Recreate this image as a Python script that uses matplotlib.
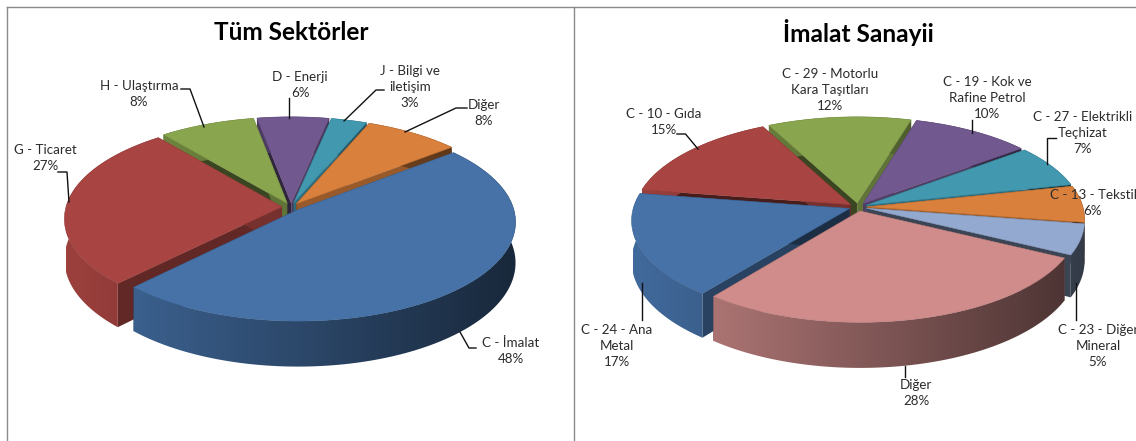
import numpy as np
import matplotlib
matplotlib.use('Agg')
import matplotlib.pyplot as plt
from matplotlib.patches import Polygon

plt.rcParams['font.family'] = ['Lato', 'DejaVu Sans']

# Left chart data
left_title = 'Tüm Sektörler'
left_names = ['C - İmalat', 'G - Ticaret', 'H - Ulaştırma', 'D - Enerji',
              'J - Bilgi ve\niletişim', 'Diğer']
left_values = [48, 27, 8, 6, 3, 8]

# Right chart data
right_title = 'İmalat Sanayii'
right_names = ['Diğer', 'C - 24 - Ana\nMetal', 'C - 10 - Gıda',
               'C - 29 - Motorlu\nKara Taşıtları', 'C - 19 - Kok ve\nRafine Petrol',
               'C - 27 - Elektrikli\nTeçhizat', 'C - 13 - Tekstil',
               'C - 23 - Diğer\nMineral']
right_values = [28, 17, 15, 12, 10, 7, 6, 5]

# Colours
left_colors = ['#4672A8', '#A84542', '#89A54E', '#71588F', '#4198AF', '#D9803C']
right_colors = ['#CF8C8B', '#4672A8', '#A84542', '#89A54E', '#71588F', '#4198AF',
                '#D9803C', '#93A9CF']

# Label centres and leader lines, pixel coordinates
left_label_pos = [(511, 351), (45, 158), (139, 94), (300, 85), (410, 87), (484, 113)]
left_leaders = [
    [(476, 348), (469, 348), (460, 332)],
    [(58, 172), (67, 172), (69, 202)],
    [(181, 89), (190, 89), (204, 127)],
    [(289, 98), (289, 118)],
    [(384, 90), (376, 90), (344, 121)],
    [(467, 108), (456, 108), (405, 132)],
]
right_label_pos = [(916, 393), (617, 346), (664, 122), (830, 90), (987, 98),
                   (1083, 133), (1093, 203), (1098, 346)]
right_leaders = [
    [(905, 366), (905, 377)],
    [(641.5, 283), (641.5, 320)],
    [(677, 134), (685.5, 134), (698, 149)],
    [(971.5, 120), (971.5, 133)],
    [(1055.5, 138), (1047, 138), (1047, 164)],
    [(1075.5, 283), (1075.5, 320)],
]

RADIUS = 216
TILT = 0.45
PERSP = 0.118
DEPTH = 40
EXPLODE = 9


def project(x3, y3, z3, cx, cy):
    s = 1.0 / (1.0 + PERSP * y3 / RADIUS)
    return cx + x3 * s, cy - y3 * TILT * s + z3 * s


def shade(color, f):
    rgb = np.array(matplotlib.colors.to_rgb(color))
    return tuple(np.clip(rgb * f, 0, 1))


def draw_pie(ax, values, colors, start, cx, cy, x_left, x_right):
    total = sum(values)
    spans = [v / total * 360 for v in values]
    edges = start - np.concatenate([[0], np.cumsum(spans)])
    mids = (edges[:-1] + edges[1:]) / 2

    # paint back slices first
    order = np.argsort(-np.sin(np.radians(mids)))
    z = 2.0
    for i in order:
        ang = np.radians(np.linspace(edges[i], edges[i + 1], max(int(spans[i] * 2), 4)))
        mid = np.radians(mids[i])
        ox = EXPLODE * np.cos(mid)
        oy = EXPLODE * np.sin(mid)
        rim_x = ox + RADIUS * np.cos(ang)
        rim_y = oy + RADIUS * np.sin(ang)

        tx, ty = project(rim_x, rim_y, 0, cx, cy)
        bx, by = project(rim_x, rim_y, DEPTH, cx, cy)
        ax_t, ay_t = project(ox, oy, 0, cx, cy)
        ax_b, ay_b = project(ox, oy, DEPTH, cx, cy)

        # cut faces, the left hand one of a back slice is in shadow
        f_first = 0.42 if np.sin(mid) > 0.3 else 0.58
        f_last = 0.7 if np.sin(mid) > 0 else 0.4
        for k, f in ((0, f_first), (-1, f_last)):
            cut = [(ax_t, ay_t), (tx[k], ty[k]), (bx[k], by[k]), (ax_b, ay_b)]
            ax.add_patch(Polygon(cut, closed=True, fc=shade(colors[i], f), ec='none', zorder=z))

        # outer wall, darker towards the right
        z += 0.01
        wall = Polygon(list(zip(tx, ty)) + list(zip(bx[::-1], by[::-1])), closed=True,
                       fc='none', ec='none', transform=ax.transData)
        ramp = np.linspace(0.93, 0.35, 256)
        grad = np.array([[shade(colors[i], f) for f in ramp]])
        im = ax.imshow(grad, extent=(x_left, x_right, 441, 0), aspect='auto',
                       interpolation='bilinear', zorder=z)
        im.set_clip_path(wall)

        # top face
        z += 0.01
        top = [(ax_t, ay_t)] + list(zip(tx, ty))
        ax.add_patch(Polygon(top, closed=True, fc=colors[i], ec=shade(colors[i], 0.9), lw=0.4, zorder=z))
        z += 0.01


def add_labels(ax, names, values, positions):
    for name, val, (x, y) in zip(names, values, positions):
        ax.text(x, y, f'{name}\n{val}%', ha='center', va='center', fontsize=9.6,
                color='#2b2b2b', linespacing=1.38, clip_on=True, zorder=10)


fig = plt.figure(figsize=(11.36, 4.41), dpi=100)
ax = fig.add_axes([0, 0, 1, 1])
ax.set_autoscale_on(False)
ax.set_xlim(0, 1136)
ax.set_ylim(441, 0)
ax.axis('off')

# chart frames
ax.plot([7, 7], [441, 7], color='#8a8a8a', lw=1)
ax.plot([7, 1136], [7, 7], color='#8a8a8a', lw=1)
ax.plot([574, 574], [7, 441], color='#8a8a8a', lw=1)

draw_pie(ax, left_values, left_colors, 39, 291, 207, 66, 516)
draw_pie(ax, right_values, right_colors, -27, 858, 207, 633, 1085)

add_labels(ax, left_names, left_values, left_label_pos)
add_labels(ax, right_names, right_values, right_label_pos)

for line in left_leaders + right_leaders:
    xs, ys = zip(*line)
    ax.plot(xs, ys, color='#111111', lw=1, zorder=9)

ax.text(291, 33, left_title, ha='center', va='center', fontsize=17.6, fontweight='bold', color='black')
ax.text(858, 33, right_title, ha='center', va='center', fontsize=17.6, fontweight='bold', color='black')

ax.set_xlim(0, 1136)
ax.set_ylim(441, 0)
fig.savefig('out.png', dpi=100)
